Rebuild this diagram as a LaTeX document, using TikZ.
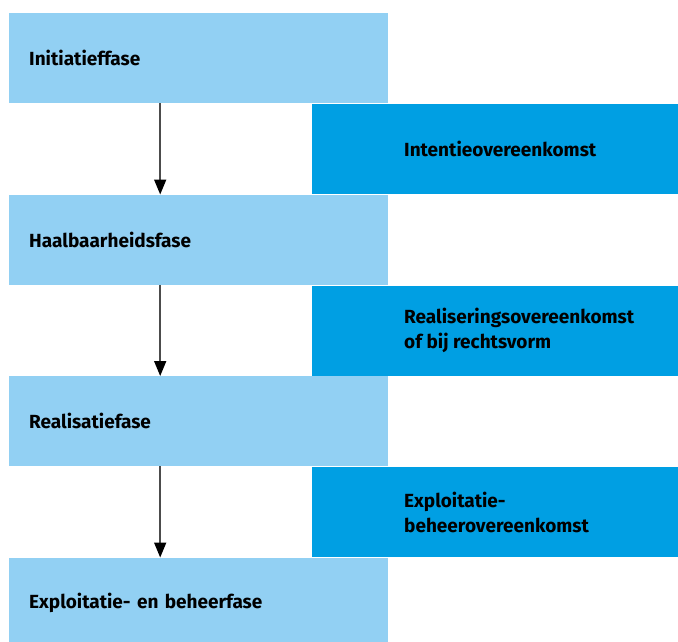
\documentclass[tikz,border=0pt]{standalone}
\usepackage{fontspec}
\setmainfont{Fira Sans}
\usetikzlibrary{positioning, arrows.meta, calc}
\definecolor{lichtblauw}{HTML}{92D0F3}
\definecolor{donkerblauw}{HTML}{009FE3}
\tikzset{
  fase/.style={
	fill=lichtblauw, % light blue phase box
	anchor=north west,
	minimum width=379pt, minimum height=90pt,
	text width=339pt, inner xsep=20pt, align=left,
	font=\bfseries\fontsize{19}{25}\selectfont,
  },
  akkoord/.style={
	fill=donkerblauw, % dark blue agreement box, text placed on its own
	anchor=north west,
	minimum width=366pt, minimum height=90pt,
  },
  tekst/.style={
	anchor=west, align=left, inner sep=0pt,
	font=\bfseries\fontsize{19}{25}\selectfont,
  },
  stap/.style={
	-{Triangle[width=12pt,length=15pt,black]}, % black head on a grey line
	draw=black!70, line width=1.6pt,
  }
}
\begin{document}
\begin{tikzpicture}[x=1pt,y=-1pt]
	  \useasboundingbox (0,0) rectangle (678,641);
	  \node[fase] (f1) at (9,13) {Initiatieffase};
	  \node[fase] (f2) at (9,194.5) {Haalbaarheidsfase};
	  \node[fase] (f3) at (9,376) {Realisatiefase};
	  \node[fase] (f4) at (9,557.5) {Exploitatie- en beheerfase};
	  \node[akkoord] (a1) at (312,104) {};
	  \node[akkoord] (a2) at (312,285.5) {};
	  \node[akkoord] (a3) at (312,467) {};
	  \node[tekst] (t1) at ($(a1.west)+(92,0)$) {Intentieovereenkomst};
	  \node[tekst] (t2) at ($(a2.west)+(92,0)$) {Realiseringsovereenkomst\\of bij rechtsvorm};
	  \node[tekst] (t3) at ($(a3.west)+(92,0)$) {Exploitatie-\\beheerovereenkomst};
	  \draw[stap] ([xshift=-38.5pt]f1.south) -- ([xshift=-38.5pt]f2.north);
	  \draw[stap] ([xshift=-38.5pt]f2.south) -- ([xshift=-38.5pt]f3.north);
	  \draw[stap] ([xshift=-38.5pt]f3.south) -- ([xshift=-38.5pt]f4.north);
\end{tikzpicture}
\end{document}
